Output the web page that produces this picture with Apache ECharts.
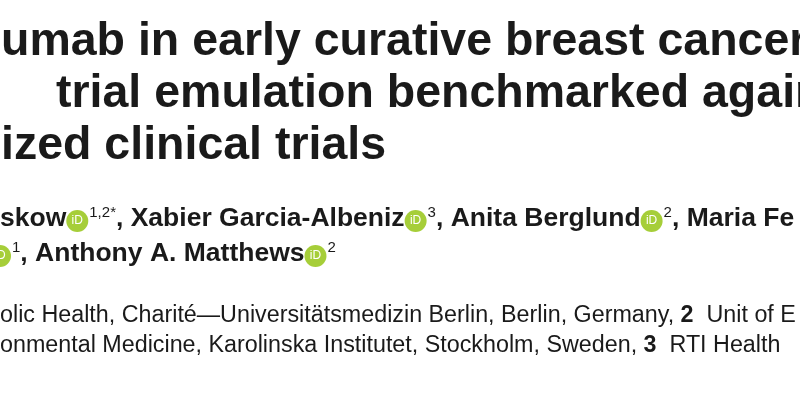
<!DOCTYPE html>
<html><head><meta charset="utf-8">
<script src="https://cdn.jsdelivr.net/npm/echarts@6/dist/echarts.min.js"></script>
<style>html,body{margin:0;background:#fff}#c{width:800px;height:400px}</style>
</head><body><div id="c"></div>
<script>
// 标题片段（左右被裁切）
const titleLines = ['umab in early curative breast cancer', 'trial emulation benchmarked against', 'ized clinical trials'];
// 作者行：{n: 名字, s: 上标}，n 为空表示只有 ORCID 图标
const authorLine1 = [
  { n: 'skow', s: '1,2*' }, { n: ', Xabier Garcia-Albeniz', s: '3' },
  { n: ', Anita Berglund', s: '2' }, { n: ', Maria Fe', s: '' }
];
const authorLine2 = [{ n: '', s: '1' }, { n: ', Anthony A. Matthews', s: '2' }];
const affilLines = [
  'olic Health, Charité—Universitätsmedizin Berlin, Berlin, Germany, {b|2}  Unit of E',
  'onmental Medicine, Karolinska Institutet, Stockholm, Sweden, {b|3}  RTI Health'
];

const chart = echarts.init(document.getElementById('c'));
const authFont = "'Liberation Sans', Arial, sans-serif";

function authorText(parts) {
  return parts.map(p => {
    let t = p.n ? '{a|' + p.n + '}' : '';
    if (p.s) t += '{id|iD}{sup|' + p.s + '}';
    return t;
  }).join('');
}
const rich = {
  a: { fontFamily: authFont, fontWeight: 'bold', fontSize: 26.5, fill: '#1a1a1a' },
  id: { fontFamily: 'Liberation Sans', fontSize: 12, fill: '#fff', backgroundColor: '#a6ce39',
        borderRadius: 11, width: 22, height: 22, align: 'center', lineHeight: 22, verticalAlign: 'bottom' },
  sup: { fontFamily: 'Liberation Sans', fontSize: 15, fill: '#1a1a1a', verticalAlign: 'top', padding: [0, 0, 12, 1] }
};

const graphic = [];
titleLines.forEach((t, i) => graphic.push({
  type: 'text', left: i === 1 ? 56 : 1, top: 19 + i * 52,
  style: { text: t, font: "bold 46.5px 'Liberation Sans', Arial, sans-serif", fill: '#1a1a1a' }
}));
graphic.push({ type: 'text', left: 0, top: 205, style: { text: authorText(authorLine1), rich } });
graphic.push({ type: 'text', left: -11, top: 240, style: { text: authorText(authorLine2), rich } });
affilLines.forEach((t, i) => graphic.push({
  type: 'text', left: 0, top: 304 + i * 30,
  style: { text: t, font: "23.3px 'Liberation Sans', Arial, sans-serif", fill: '#1a1a1a',
           rich: { b: { fontFamily: 'Liberation Sans', fontWeight: 'bold', fontSize: 23.3, fill: '#1a1a1a' } } }
}));

chart.setOption({ backgroundColor: '#fff', graphic });
</script></body></html>
